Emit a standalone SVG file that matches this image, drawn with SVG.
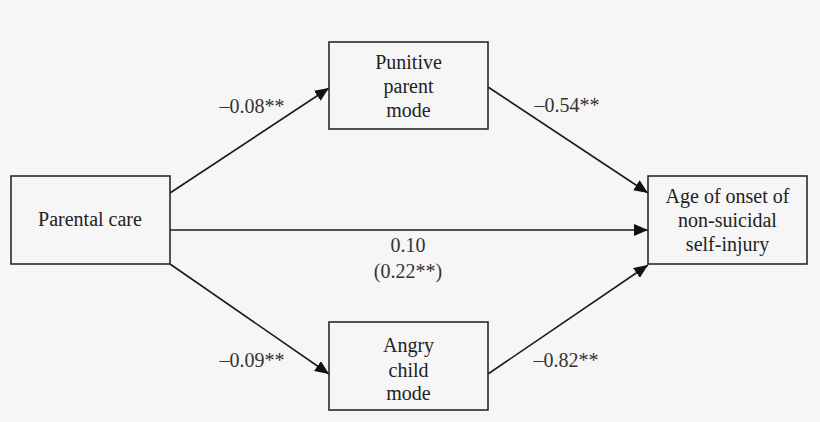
<svg xmlns="http://www.w3.org/2000/svg" width="820" height="422" viewBox="0 0 820 422">
<style>
.bg{fill:#f6f6f6}
.box{fill:#f6f6f6;stroke:#2a2a2a;stroke-width:1.6}
.t{font-family:'Liberation Serif','DejaVu Serif',serif;font-size:20px;fill:#222;text-anchor:middle}
.lab{font-family:'Liberation Serif','DejaVu Serif',serif;font-size:20px;fill:#333;text-anchor:middle}
.edge{stroke:#1a1a1a;stroke-width:1.6;fill:none;marker-end:url(#arr)}
</style>
<defs>
<marker id="arr" markerUnits="userSpaceOnUse" markerWidth="14" markerHeight="12" refX="14" refY="6" orient="auto">
<path d="M0,0 L14,6 L0,12 z" fill="#111"/>
</marker>
</defs>
<rect class="bg" x="0" y="0" width="820" height="422"/>
<g id="connectors">
<line class="edge" x1="170" y1="193" x2="329" y2="88"/>
<line class="edge" x1="170" y1="230" x2="648" y2="230"/>
<line class="edge" x1="170" y1="264" x2="329" y2="374"/>
<line class="edge" x1="488" y1="87" x2="648" y2="193"/>
<line class="edge" x1="488" y1="374" x2="648" y2="265"/>
<text class="lab" x="252" y="113">–0.08**</text>
<text class="lab" x="567" y="112">–0.54**</text>
<text class="lab" x="408" y="252">0.10</text>
<text class="lab" x="408" y="278">(0.22**)</text>
<text class="lab" x="252" y="367">–0.09**</text>
<text class="lab" x="566" y="367">–0.82**</text>
</g>
<g id="parental-care">
<rect class="box" x="11" y="176" width="159" height="88"/>
<text class="t" x="90" y="226">Parental care</text>
</g>
<g id="punitive-parent-mode">
<rect class="box" x="329" y="42" width="159" height="87"/>
<text class="t" x="408.5" y="69">Punitive</text>
<text class="t" x="408.5" y="93">parent</text>
<text class="t" x="408.5" y="117">mode</text>
</g>
<g id="angry-child-mode">
<rect class="box" x="329" y="322" width="159" height="88"/>
<text class="t" x="408.5" y="352">Angry</text>
<text class="t" x="408.5" y="377">child</text>
<text class="t" x="408.5" y="400">mode</text>
</g>
<g id="age-of-onset">
<rect class="box" x="648" y="176" width="159" height="88"/>
<text class="t" x="727.5" y="203">Age of onset of</text>
<text class="t" x="727.5" y="227">non-suicidal</text>
<text class="t" x="727.5" y="251">self-injury</text>
</g>
</svg>
